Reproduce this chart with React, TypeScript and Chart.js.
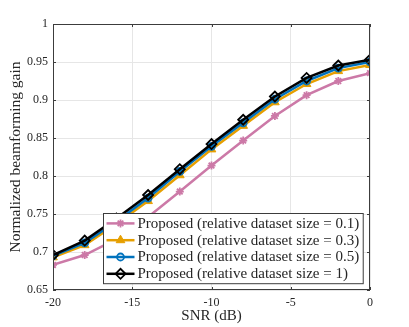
import React, { useEffect, useRef } from 'react';
import { Chart, registerables } from 'chart.js';
import { drawPoint } from 'chart.js/helpers';

Chart.register(...registerables);

const snr = [-20, -18, -16, -14, -12, -10, -8, -6, -4, -2, 0];
const gainSize01 = [0.683, 0.696, 0.717, 0.746, 0.7795, 0.8137, 0.8466, 0.879, 0.9064, 0.925, 0.9354];
const gainSize03 = [0.693, 0.709, 0.737, 0.767, 0.801, 0.835, 0.866, 0.897, 0.921, 0.938, 0.946];
const gainSize05 = [0.695, 0.712, 0.740, 0.771, 0.806, 0.839, 0.870, 0.901, 0.925, 0.942, 0.950];
const gainSize1 = [0.696, 0.715, 0.744, 0.775, 0.809, 0.842, 0.874, 0.9046, 0.929, 0.9454, 0.953];
const seriesLabels = [
  'Proposed (relative dataset size = 0.1)',
  'Proposed (relative dataset size = 0.3)',
  'Proposed (relative dataset size = 0.5)',
  'Proposed (relative dataset size = 1)',
];
const xTicks = [-20, -15, -10, -5, 0];
const yTicks = [0.65, 0.7, 0.75, 0.8, 0.85, 0.9, 0.95, 1];

const FONT = "'Liberation Serif', 'Times New Roman', serif";
const TXT = '#262626';

const toPts = (ys: number[]) => snr.map((x, i) => ({ x, y: ys[i] }));

const frameAndLegend = {
  id: 'frameAndLegend',
  afterDatasetsDraw(chart: any) {
    const { ctx, chartArea: a, scales } = chart;
    ctx.save();
    // box
    ctx.strokeStyle = '#3c3c3c';
    ctx.lineWidth = 1;
    ctx.strokeRect(Math.round(a.left) + 0.5, Math.round(a.top) + 0.5, Math.round(a.right - a.left) - 1, Math.round(a.bottom - a.top) - 1);
    // inward ticks
    const tl = 3;
    ctx.beginPath();
    xTicks.forEach((v) => {
      const px = Math.round(scales.x.getPixelForValue(v)) + 0.5;
      ctx.moveTo(px, a.bottom); ctx.lineTo(px, a.bottom - tl);
      ctx.moveTo(px, a.top); ctx.lineTo(px, a.top + tl);
    });
    yTicks.forEach((v) => {
      const py = Math.round(scales.y.getPixelForValue(v)) + 0.5;
      ctx.moveTo(a.left, py); ctx.lineTo(a.left + tl, py);
      ctx.moveTo(a.right, py); ctx.lineTo(a.right - tl, py);
    });
    ctx.stroke();

    // legend
    ctx.font = `15px ${FONT}`;
    const ds = chart.data.datasets;
    const textW = Math.max(...seriesLabels.map((t) => ctx.measureText(t).width));
    const lineLen = 28;
    const rowH = 16.8;
    const padL = 3, padR = 4, gap = 3;
    const boxW = padL + lineLen + gap + textW + padR;
    const boxH = rowH * seriesLabels.length + 3;
    const bx = Math.round(a.right - 7 - boxW) + 0.5;
    const by = Math.round(a.bottom - 7 - boxH) + 0.5;
    ctx.fillStyle = '#ffffff';
    ctx.fillRect(bx, by, boxW, boxH);
    ctx.strokeStyle = '#3c3c3c';
    ctx.lineWidth = 1;
    ctx.strokeRect(bx, by, boxW, boxH);
    seriesLabels.forEach((label, i) => {
      const d = ds[i];
      const cy = by + 1.5 + rowH * (i + 0.5);
      const lx = bx + padL;
      ctx.strokeStyle = d.borderColor;
      ctx.lineWidth = d.borderWidth;
      ctx.beginPath();
      ctx.moveTo(lx, cy); ctx.lineTo(lx + lineLen, cy);
      ctx.stroke();
      ctx.fillStyle = d.pointBackgroundColor;
      ctx.strokeStyle = d.pointBorderColor;
      ctx.lineWidth = d.pointBorderWidth;
      drawPoint(ctx, { pointStyle: d.pointStyle, radius: d.pointRadius, rotation: 0, borderWidth: d.pointBorderWidth }, lx + lineLen / 2, cy);
      ctx.fillStyle = TXT;
      ctx.textBaseline = 'middle';
      ctx.textAlign = 'left';
      ctx.fillText(label, lx + lineLen + gap, cy + 0.5);
    });
    ctx.restore();
  },
};

export default function App() {
  const ref = useRef<HTMLCanvasElement | null>(null);
  useEffect(() => {
    document.body.style.margin = '0';
    if (!ref.current) return;
    const chart = new Chart(ref.current, {
      type: 'line',
      data: {
        datasets: [
          {
            label: seriesLabels[0], data: toPts(gainSize01), order: 3,
            borderColor: '#CC79A7', borderWidth: 2.5, pointStyle: 'star', pointRadius: 4,
            pointBorderColor: '#CC79A7', pointBackgroundColor: '#CC79A7', pointBorderWidth: 1.8,
          },
          {
            label: seriesLabels[1], data: toPts(gainSize03), order: 2,
            borderColor: '#E69F00', borderWidth: 2.5, pointStyle: 'triangle', pointRadius: 5,
            pointBorderColor: '#E69F00', pointBackgroundColor: '#E69F00', pointBorderWidth: 1,
          },
          {
            label: seriesLabels[2], data: toPts(gainSize05), order: 1,
            borderColor: '#0072BD', borderWidth: 2.5, pointStyle: 'circle', pointRadius: 3.5,
            pointBorderColor: '#0072BD', pointBackgroundColor: 'rgba(0,0,0,0)', pointBorderWidth: 1.8,
          },
          {
            label: seriesLabels[3], data: toPts(gainSize1), order: 0,
            borderColor: '#000000', borderWidth: 2.5, pointStyle: 'rectRot', pointRadius: 5,
            pointBorderColor: '#000000', pointBackgroundColor: 'rgba(0,0,0,0)', pointBorderWidth: 1.8,
          },
        ],
      },
      options: {
        animation: false,
        responsive: false,
        layout: { padding: { top: 24, right: 39, left: 0, bottom: 0 } },
        plugins: { legend: { display: false }, tooltip: { enabled: false } },
        scales: {
          x: {
            type: 'linear', min: -20, max: 0,
            afterBuildTicks: (s: any) => { s.ticks = xTicks.map((v) => ({ value: v })); },
            afterFit: (s: any) => { s.height = 37; },
            grid: { color: '#e6e6e6', drawTicks: false, lineWidth: 1 },
            border: { display: false },
            ticks: { padding: 6, color: TXT, font: { family: FONT, size: 12 }, maxRotation: 0, callback: (v: any) => String(v) },
            title: { display: true, text: 'SNR (dB)', color: TXT, font: { family: FONT, size: 15 }, padding: { top: 0, bottom: 2 } },
          },
          y: {
            type: 'linear', min: 0.65, max: 1,
            afterBuildTicks: (s: any) => { s.ticks = yTicks.map((v) => ({ value: v })); },
            afterFit: (s: any) => { s.width = 53; },
            grid: { color: '#e6e6e6', drawTicks: false, lineWidth: 1 },
            border: { display: false },
            ticks: { padding: 5, color: TXT, font: { family: FONT, size: 12 }, callback: (v: any) => String(Number(Number(v).toFixed(2))) },
            title: { display: true, text: 'Normalized beamforming gain', color: TXT, font: { family: FONT, size: 15.5 }, padding: { top: 7, bottom: 0 } },
          },
        },
      },
      plugins: [frameAndLegend],
    });
    return () => chart.destroy();
  }, []);
  return (
    <div style={{ position: 'fixed', left: 0, top: 0, width: 409, height: 327, background: '#fff' }}>
      <canvas ref={ref} width={409} height={327} style={{ width: 409, height: 327, display: 'block' }} />
    </div>
  );
}
